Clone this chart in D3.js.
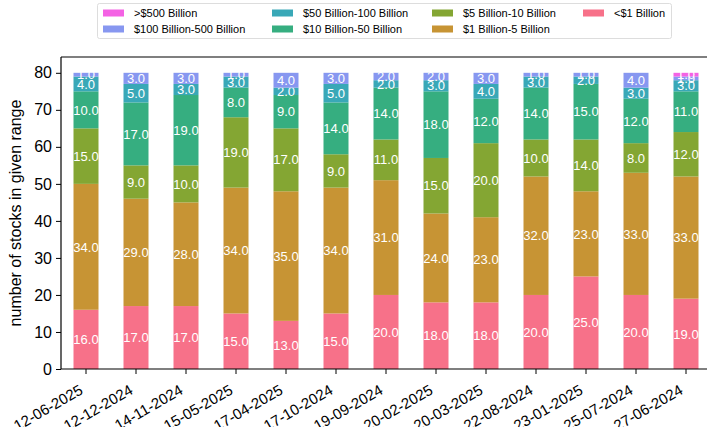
<!DOCTYPE html>
<html>
<head>
<meta charset="utf-8">
<script src="https://cdn.jsdelivr.net/npm/d3@7"></script>
<style>
  body { margin: 0; background: #fff; }
  svg { font-family: "Liberation Sans", Arial, sans-serif; }
</style>
</head>
<body>
<div id="chart"></div>
<script>
// dates on the x axis
var dates = ['12-06-2025', '12-12-2024', '14-11-2024', '15-05-2025', '17-04-2025', '17-10-2024', '19-09-2024',
             '20-02-2025', '20-03-2025', '22-08-2024', '23-01-2025', '25-07-2024', '27-06-2024'];

// one array per market cap range, bottom of the stack first
var lt1B      = [16, 17, 17, 15, 13, 15, 20, 18, 18, 20, 25, 20, 19];
var b1to5     = [34, 29, 28, 34, 35, 34, 31, 24, 23, 32, 23, 33, 33];
var b5to10    = [15,  9, 10, 19, 17,  9, 11, 15, 20, 10, 14,  8, 12];
var b10to50   = [10, 17, 19,  8,  9, 14, 14, 18, 12, 14, 15, 12, 11];
var b50to100  = [ 4,  5,  3,  3,  2,  5,  2,  3,  4,  3,  2,  3,  3];
var b100to500 = [ 1,  3,  3,  1,  4,  3,  2,  2,  3,  1,  1,  4,  1];
var gt500B    = [ 0,  0,  0,  0,  0,  0,  0,  0,  0,  0,  0,  0,  1];

var seriesNames = ['<$1 Billion', '$1 Billion-5 Billion', '$5 Billion-10 Billion', '$10 Billion-50 Billion',
                   '$50 Billion-100 Billion', '$100 Billion-500 Billion', '>$500 Billion'];
var seriesVals = [lt1B, b1to5, b5to10, b10to50, b50to100, b100to500, gt500B];
var colors = ['#f77189', '#c79434', '#84a633', '#36ae80', '#39a8b7', '#8797f0', '#f462e4'];
var yTicks = [0, 10, 20, 30, 40, 50, 60, 70, 80];

var width = 707, height = 427;
var svg = d3.select('#chart').append('svg')
  .attr('width', width)
  .attr('height', height);

var x = d3.scaleBand().domain(dates).range([61, 711]).paddingInner(0.5).paddingOuter(0.25);
var y = d3.scaleLinear().domain([0, 84]).range([369, 58]);

// build table for stack
var table = dates.map(function(d, i) {
  var row = { date: d };
  seriesNames.forEach(function(s, j) { row[s] = seriesVals[j][i]; });
  return row;
});
var stack = d3.stack().keys(seriesNames)(table);

var layers = svg.append('g').selectAll('g')
  .data(stack)
  .enter().append('g')
  .attr('fill', function(d, i) { return colors[i]; });

layers.selectAll('rect')
  .data(function(d) { return d; })
  .enter().append('rect')
  .attr('x', function(d) { return x(d.data.date); })
  .attr('width', x.bandwidth())
  .attr('y', function(d) { return y(d[1]); })
  .attr('height', function(d) { return y(d[0]) - y(d[1]); });

// value labels in the middle of each piece
layers.selectAll('text')
  .data(function(d) { return d.filter(function(p) { return p[1] - p[0] > 0; }); })
  .enter().append('text')
  .attr('x', function(d) { return x(d.data.date) + x.bandwidth() / 2; })
  .attr('y', function(d) { return y((d[0] + d[1]) / 2); })
  .attr('dy', '0.36em')
  .attr('text-anchor', 'middle')
  .attr('fill', '#fff')
  .style('font-size', '13px')
  .text(function(d) { return (d[1] - d[0]).toFixed(1); });

// axes
var yAxis = svg.append('g')
  .attr('transform', 'translate(61,0)')
  .call(d3.axisLeft(y).tickValues(yTicks).tickSize(5).tickPadding(4));
yAxis.select('.domain').remove();
yAxis.selectAll('text').style('font-size', '16px').attr('fill', '#000');

var xAxis = svg.append('g')
  .attr('transform', 'translate(0,369)')
  .call(d3.axisBottom(x).tickSize(5));
xAxis.select('.domain').remove();
xAxis.selectAll('text')
  .style('font-size', '15px')
  .attr('fill', '#000')
  .attr('text-anchor', 'end')
  .attr('y', 0)
  .attr('dy', 0)
  .attr('transform', 'translate(-2,24) rotate(-30)');

// frame
svg.append('line').attr('x1', 61).attr('x2', 61).attr('y1', 57).attr('y2', 369).attr('stroke', '#000').attr('stroke-width', 1.2);
svg.append('line').attr('x1', 61).attr('x2', 711).attr('y1', 369).attr('y2', 369).attr('stroke', '#000').attr('stroke-width', 1.2);
svg.append('line').attr('x1', 61).attr('x2', 711).attr('y1', 57).attr('y2', 57).attr('stroke', '#000').attr('stroke-width', 1.2);

svg.append('text')
  .attr('transform', 'translate(21,' + ((57 + 369) / 2) + ') rotate(-90)')
  .attr('text-anchor', 'middle')
  .style('font-size', '16px')
  .text('number of stocks in given range');

// legend, 4 columns filled top-down, largest range first
var legend = svg.append('g');
legend.append('rect')
  .attr('x', 97.5).attr('y', 3.5).attr('width', 574).attr('height', 35)
  .attr('rx', 2).attr('fill', '#fff').attr('stroke', '#ddd');
var colX = [103, 272, 432, 583];
var order = seriesNames.slice().reverse();
order.forEach(function(name, k) {
  var ci = seriesNames.indexOf(name);
  var gx = colX[Math.floor(k / 2)];
  var gy = k % 2 === 0 ? 13 : 29;
  legend.append('rect').attr('x', gx).attr('y', gy - 3.5).attr('width', 21).attr('height', 7).attr('fill', colors[ci]);
  legend.append('text').attr('x', gx + 31).attr('y', gy).attr('dy', '0.36em')
    .style('font-size', '11px').text(name);
});
</script>
</body>
</html>
